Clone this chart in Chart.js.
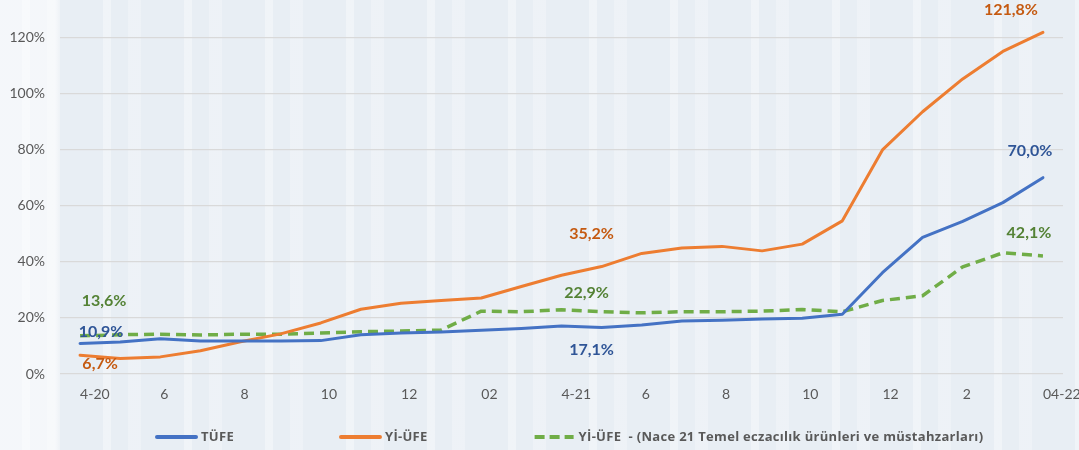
<!DOCTYPE html>
<html>
<head>
<meta charset="utf-8">
<script src="https://cdn.jsdelivr.net/npm/chart.js@4.4.1/dist/chart.umd.min.js"></script>
<style>
  html, body { margin: 0; padding: 0; }
  body {
    width: 1079px; height: 450px; overflow: hidden;
    background:
      linear-gradient(to right, rgba(255,255,255,0.55) 0px, rgba(255,255,255,0.55) 55px, rgba(255,255,255,0) 60px),
      repeating-linear-gradient(to right,
        rgba(255,255,255,0) 0px, rgba(255,255,255,0) 22px,
        rgba(255,255,255,0.35) 22px, rgba(255,255,255,0.35) 30px,
        rgba(255,255,255,0) 30px, rgba(255,255,255,0) 47px,
        rgba(255,255,255,0.25) 47px, rgba(255,255,255,0.25) 60px,
        rgba(255,255,255,0) 60px, rgba(255,255,255,0) 81px),
      #e8eef4;
  }
  #wrap { position: absolute; left: 0; top: 0; width: 1079px; height: 450px; }
</style>
</head>
<body>
<div id="wrap"><canvas id="c" width="1079" height="450"></canvas></div>
<script>
// ---- Data ----
const months = ['4-20','5-20','6-20','7-20','8-20','9-20','10-20','11-20','12-20','1-21','2-21','3-21',
                '4-21','5-21','6-21','7-21','8-21','9-21','10-21','11-21','12-21','1-22','2-22','3-22','04-22'];
const xTickLabels = ['4-20','','6','','8','','10','','12','','02','','4-21','','6','','8','','10','','12','','2','','04-22'];
const tufe = [10.9, 11.4, 12.6, 11.8, 11.8, 11.8, 11.9, 14.0, 14.6, 15.0, 15.6, 16.2,
              17.1, 16.6, 17.5, 18.9, 19.2, 19.6, 19.9, 21.3, 36.1, 48.7, 54.4, 61.1, 70.0];
const yiUfe = [6.7, 5.5, 6.1, 8.3, 11.5, 14.3, 18.2, 23.1, 25.2, 26.2, 27.1, 31.2,
               35.2, 38.3, 43.0, 44.9, 45.5, 43.9, 46.3, 54.6, 79.9, 93.5, 105.2, 115.0, 121.8];
const nace21 = [13.6, 14.0, 14.2, 13.9, 14.2, 14.2, 14.6, 15.1, 15.3, 15.7, 22.4, 22.2,
                22.9, 22.2, 21.8, 22.2, 22.2, 22.4, 23.0, 22.2, 26.2, 27.9, 38.2, 43.2, 42.1];
const seriesNames = ['TÜFE', 'Yİ-ÜFE', 'Yİ-ÜFE  - (Nace 21 Temel eczacılık ürünleri ve müstahzarları)'];
const yTicks = [0, 20, 40, 60, 80, 100, 120];

// ---- Styles ----
const BLUE = '#4472C4', ORANGE = '#ED7D31', GREEN = '#70AD47';
const BLUE_T = '#2F5597', ORANGE_T = '#C55A11', GREEN_T = '#548235';
const FONT = "Lato, 'Open Sans', sans-serif";
const LEGEND_FONT = "'Open Sans', sans-serif";

// label annotations: which point, and where the text sits relative to it
const labelSpecs = [
  { ds: 1, i: 0,  dx: 20,  dy: 9,   color: ORANGE_T },
  { ds: 0, i: 0,  dx: 21,  dy: -12, color: BLUE_T },
  { ds: 2, i: 0,  dx: 24,  dy: -35, color: GREEN_T },
  { ds: 1, i: 12, dx: 30,  dy: -41, color: ORANGE_T },
  { ds: 2, i: 12, dx: 25,  dy: -17, color: GREEN_T },
  { ds: 0, i: 12, dx: 30,  dy: 24,  color: BLUE_T },
  { ds: 1, i: 24, dx: -32, dy: -23, color: ORANGE_T },
  { ds: 0, i: 24, dx: -13, dy: -27, color: BLUE_T },
  { ds: 2, i: 24, dx: -14, dy: -23, color: GREEN_T }
];

function fmt(v) { return v.toFixed(1).replace('.', ',') + '%'; }

const dataLabelPlugin = {
  id: 'dataLabels',
  afterDatasetsDraw(chart) {
    const ctx = chart.ctx;
    ctx.save();
    ctx.font = "bold 16px " + FONT;
    ctx.textAlign = 'center';
    ctx.textBaseline = 'middle';
    labelSpecs.forEach(s => {
      const el = chart.getDatasetMeta(s.ds).data[s.i];
      const v = chart.data.datasets[s.ds].data[s.i];
      ctx.fillStyle = s.color;
      ctx.fillText(fmt(v), el.x + s.dx, el.y + s.dy);
    });
    ctx.restore();
  }
};

const legendPlugin = {
  id: 'customLegend',
  afterDraw(chart) {
    const ctx = chart.ctx;
    ctx.save();
    ctx.font = "bold 13px " + LEGEND_FONT;
    if ('letterSpacing' in ctx) ctx.letterSpacing = '0.3px';
    ctx.textBaseline = 'middle';
    ctx.textAlign = 'left';
    const y = 437;
    let x = 155;
    chart.data.datasets.forEach(ds => {
      ctx.strokeStyle = ds.borderColor;
      ctx.lineWidth = 4;
      ctx.setLineDash(ds.borderDash ? [10, 5] : []);
      ctx.lineCap = ds.borderDash ? 'butt' : 'round';
      ctx.beginPath();
      ctx.moveTo(x + 2, y);
      ctx.lineTo(x + 41, y);
      ctx.stroke();
      ctx.setLineDash([]);
      ctx.fillStyle = '#595959';
      ctx.fillText(ds.label, x + 46, y);
      x += 46 + ctx.measureText(ds.label).width + 105;
    });
    ctx.restore();
  }
};

new Chart(document.getElementById('c'), {
  type: 'line',
  data: {
    labels: months,
    datasets: [
      { label: seriesNames[0], data: tufe, borderColor: BLUE, backgroundColor: BLUE,
        borderWidth: 3, pointRadius: 0, tension: 0, borderCapStyle: 'round', borderJoinStyle: 'round' },
      { label: seriesNames[1], data: yiUfe, borderColor: ORANGE, backgroundColor: ORANGE,
        borderWidth: 3, pointRadius: 0, tension: 0, borderCapStyle: 'round', borderJoinStyle: 'round' },
      { label: seriesNames[2], data: nace21, borderColor: GREEN, backgroundColor: GREEN,
        borderWidth: 3.5, borderDash: [10, 6], pointRadius: 0, tension: 0, borderJoinStyle: 'round' }
    ]
  },
  options: {
    responsive: false,
    animation: false,
    layout: { padding: { left: 0, right: 16, top: 23, bottom: 0 } },
    plugins: { legend: { display: false }, tooltip: { enabled: false } },
    scales: {
      x: {
        offset: true,
        grid: { display: false, drawTicks: false },
        border: { display: false },
        ticks: {
          autoSkip: false, maxRotation: 0, minRotation: 0, padding: 12, align: 'start', labelOffset: 0,
          color: '#595959', font: { family: FONT, size: 14 },
          callback: (v, i) => xTickLabels[i]
        },
        afterFit: s => { s.height = 76; s.paddingLeft = 0; s.paddingRight = 0; }
      },
      y: {
        min: 0, max: 125,
        grid: { color: '#d9d9d9', lineWidth: 1.3, drawTicks: false },
        border: { display: false },
        afterBuildTicks: s => { s.ticks = yTicks.map(v => ({ value: v })); },
        ticks: {
          padding: 15, color: '#595959', font: { family: FONT, size: 14 },
          callback: v => v + '%'
        },
        afterFit: s => { s.width = 60; }
      }
    }
  },
  plugins: [dataLabelPlugin, legendPlugin]
});
</script>
</body>
</html>
